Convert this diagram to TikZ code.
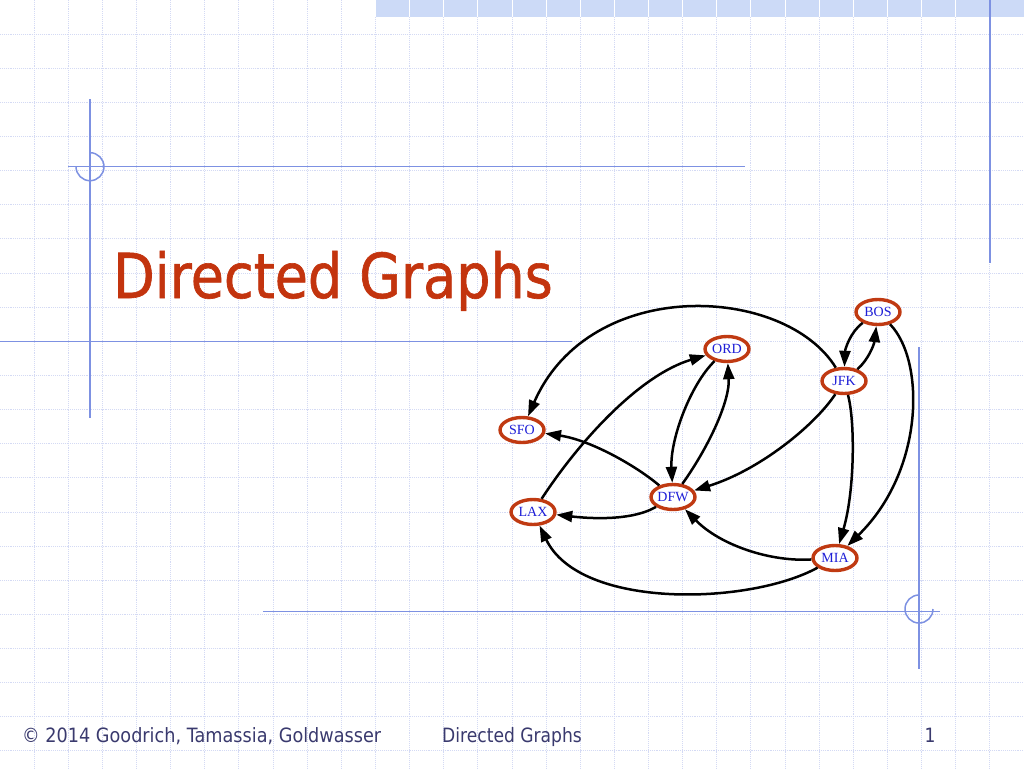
\documentclass[tikz,border=0pt]{standalone}
\usepackage{fontspec}
\setmainfont{Liberation Serif}
\newfontfamily\tahoma[FakeStretch=0.87]{DejaVu Sans}
\newfontfamily\tahomatitle[FakeStretch=0.87,FakeBold=1]{DejaVu Sans}
\usetikzlibrary{shapes.geometric,arrows.meta}
\definecolor{gridc}{RGB}{212,218,244}
\definecolor{barc}{RGB}{204,218,247}
\definecolor{decoc}{RGB}{125,145,226}
\definecolor{titlec}{RGB}{195,52,14}
\definecolor{ringc}{RGB}{192,58,18}
\definecolor{labc}{RGB}{30,30,215}
\definecolor{footc}{RGB}{58,58,110}
\tikzset{
  gridline/.style={draw=gridc, line width=0.9pt, densely dotted},
  decoline/.style={draw=decoc, line width=1.5pt},
  city/.style={ellipse, draw=ringc, line width=3.4pt, fill=white, minimum width=44pt, minimum height=25pt, inner sep=0pt, text=labc, font=\fontsize{14}{14}\selectfont},
  flight/.style={draw=black, line width=2.5pt, -{Triangle[length=16pt,width=11pt]}},
  foot/.style={text=footc, inner sep=0pt, font=\tahoma\fontsize{19.7}{20}\selectfont}
}
\begin{document}
\begin{tikzpicture}[x=1pt,y=-1pt]
\useasboundingbox (0,0) rectangle (1024,768);
\fill[white] (0,0) rectangle (1024,768);
% top bar
\fill[barc] (375,0) rectangle (1024,17);
% grid
\foreach \i in {1,...,29} \draw[gridline] ({\i*34.133},0) -- ({\i*34.133},768);
\foreach \j in {1,...,22} \draw[gridline] (0,{\j*34.133}) -- (1024,{\j*34.133});
\foreach \i in {11,...,29} \draw[white, line width=1pt] ({\i*34.133},0) -- ({\i*34.133},17);
% decorative lines
\draw[decoline] (90,99) -- (90,418);
\draw[decoline] (68,166.7) -- (745,166.7);
\draw[decoline] (90,152.7) arc[start angle=90, end angle=-180, radius=14pt];
\draw[decoline] (0,341.5) -- (572,341.5);
\draw[decoline] (990,0) -- (990,263);
\draw[decoline] (919,347) -- (919,669);
\draw[decoline] (263,611.7) -- (940,611.7);
\draw[decoline] (919,595) arc[start angle=90, end angle=360, radius=14pt];
% title
\node[anchor=base west, inner sep=0pt, text=titlec, font=\tahomatitle\fontsize{62}{62}\selectfont] (title) at (113,298) {Directed Graphs};
% nodes
\node[city] (sfo) at (522,430) {SFO};
\node[city] (ord) at (727,349) {ORD};
\node[city] (bos) at (878,312) {BOS};
\node[city] (jfk) at (844,381) {JFK};
\node[city] (dfw) at (673,497) {DFW};
\node[city] (lax) at (533,512) {LAX};
\node[city] (mia) at (835,558) {MIA};
% edges
\draw[flight] (jfk) .. controls (785,285) and (590,275) .. (sfo);
\draw[flight] (bos) .. controls (850,332) and (845,350) .. (jfk);
\draw[flight] (jfk) .. controls (868,360) and (874,345) .. (bos);
\draw[flight] (bos) .. controls (925,360) and (925,470) .. (mia);
\draw[flight] (jfk) .. controls (855,420) and (855,490) .. (mia);
\draw[flight] (jfk) .. controls (815,425) and (760,470) .. (dfw);
\draw[flight] (mia) .. controls (770,562) and (720,545) .. (dfw);
\draw[flight] (mia) .. controls (750,605) and (580,610) .. (lax);
\draw[flight] (dfw) .. controls (630,522) and (585,518) .. (lax);
\draw[flight] (dfw) .. controls (635,465) and (590,440) .. (sfo);
\draw[flight] (lax) .. controls (580,440) and (640,375) .. (ord);
\draw[flight] (ord) .. controls (690,385) and (670,440) .. (dfw);
\draw[flight] (dfw) .. controls (710,445) and (730,400) .. (ord);
% footer
\node[foot, anchor=base west, xscale=1.03] (copy) at (22,742) {© 2014 Goodrich, Tamassia, Goldwasser};
\node[foot, anchor=base west] (ftitle) at (442,742) {Directed Graphs};
\node[foot, anchor=base] (pnum) at (930,742) {1};
\end{tikzpicture}
\end{document}
